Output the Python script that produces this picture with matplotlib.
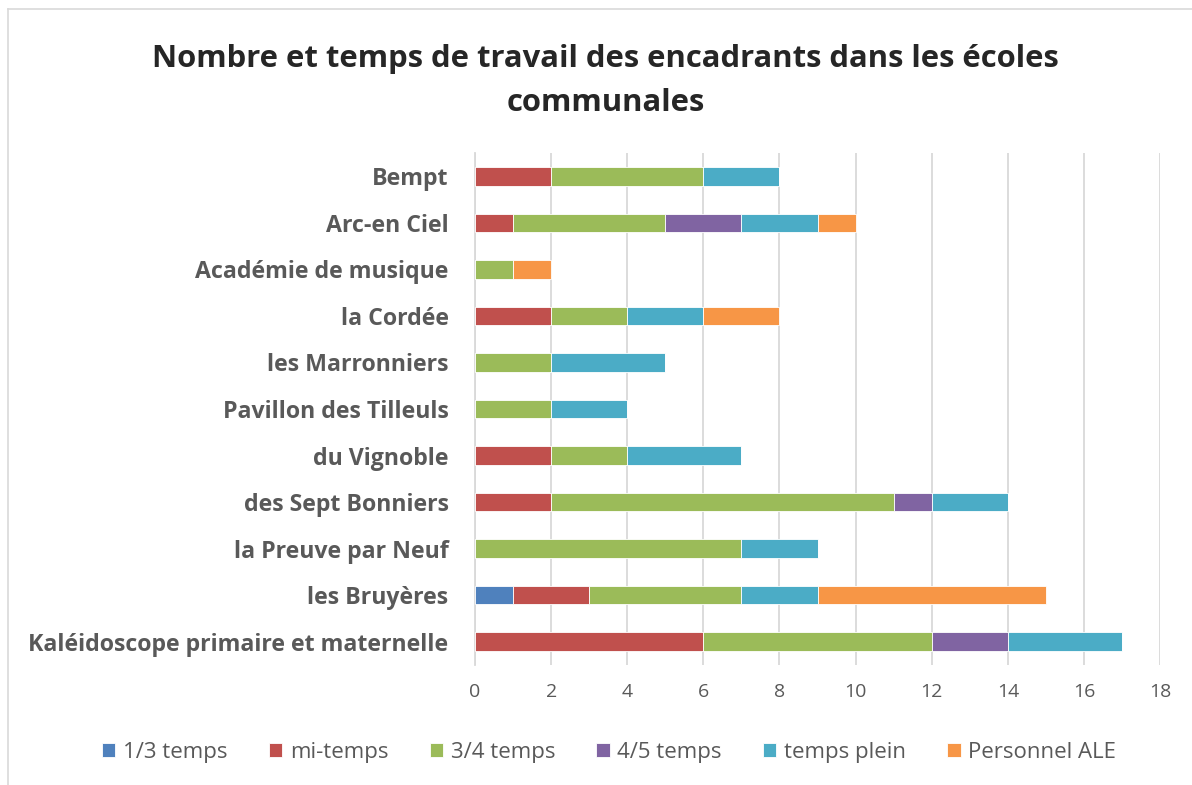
import matplotlib
matplotlib.use("Agg")
import matplotlib.pyplot as plt
import numpy as np

# =========================
# Data
# =========================
schools = [
    "Kaléidoscope primaire et maternelle",
    "les Bruyères",
    "la Preuve par Neuf",
    "des Sept Bonniers",
    "du Vignoble",
    "Pavillon des Tilleuls",
    "les Marronniers",
    "la Cordée",
    "Académie de musique",
    "Arc-en Ciel",
    "Bempt",
]
series_names = ["1/3 temps", "mi-temps", "3/4 temps", "4/5 temps", "temps plein", "Personnel ALE"]
tiers_temps = [0, 1, 0, 0, 0, 0, 0, 0, 0, 0, 0]
mi_temps = [6, 2, 0, 2, 2, 0, 0, 2, 0, 1, 2]
trois_quarts = [6, 4, 7, 9, 2, 2, 2, 2, 1, 4, 4]
quatre_cinq = [2, 0, 0, 1, 0, 0, 0, 0, 0, 2, 0]
temps_plein = [3, 2, 2, 2, 3, 2, 3, 2, 0, 2, 2]
personnel_ale = [0, 6, 0, 0, 0, 0, 0, 2, 1, 1, 0]
colors = ["#4F81BD", "#C0504D", "#9BBB59", "#8064A2", "#4BACC6", "#F79646"]

plt.rcParams["font.family"] = ["Open Sans", "DejaVu Sans"]

fig = plt.figure(figsize=(11.92, 7.85), dpi=100)
ax = fig.add_axes([0.3985, 0.1529, 0.5747, 0.6522])

y = np.arange(len(schools))
left = np.zeros(len(schools))
for name, vals, col in zip(series_names,
                           [tiers_temps, mi_temps, trois_quarts, quatre_cinq, temps_plein, personnel_ale],
                           colors):
    vals = np.array(vals, dtype=float)
    ax.barh(y, vals, left=left, height=0.4, color=col, label=name,
            edgecolor="white", linewidth=0.6, zorder=3)
    left += vals

ax.set_xlim(0, 18)
ax.set_ylim(-0.5, len(schools) - 0.5)
ax.set_xticks(range(0, 19, 2))
ax.set_yticks(y)
ax.set_yticklabels(schools, fontsize=16.7, fontweight="bold", color="#595959")
ax.tick_params(axis="x", labelsize=14, labelcolor="#595959", length=0, pad=13)
ax.tick_params(axis="y", length=0, pad=19)
ax.grid(axis="x", color="#D9D9D9", linewidth=1.3, zorder=0)
for s in ["top", "right", "bottom"]:
    ax.spines[s].set_visible(False)
ax.spines["left"].set_color("#D9D9D9")
ax.spines["left"].set_linewidth(1.3)

fig.suptitle("Nombre et temps de travail des encadrants dans les écoles\ncommunales",
             x=0.508, y=0.944, fontsize=22.3, fontweight="bold", color="#262626",
             linespacing=1.62)

fig.legend(loc="center", bbox_to_anchor=(0.511, 0.042), ncol=6, frameon=False,
           fontsize=16, labelcolor="#595959", handlelength=0.6, handleheight=0.6,
           handletextpad=0.35, columnspacing=1.85)

# chart border (top and left edges visible in the reference)
fig.add_artist(plt.Line2D([8 / 1192, 1.0], [1 - 9 / 785, 1 - 9 / 785],
                          transform=fig.transFigure, color="#D9D9D9", linewidth=1.2))
fig.add_artist(plt.Line2D([8 / 1192, 8 / 1192], [0.0, 1 - 9 / 785],
                          transform=fig.transFigure, color="#D9D9D9", linewidth=1.2))

fig.savefig("out.png", dpi=100)
